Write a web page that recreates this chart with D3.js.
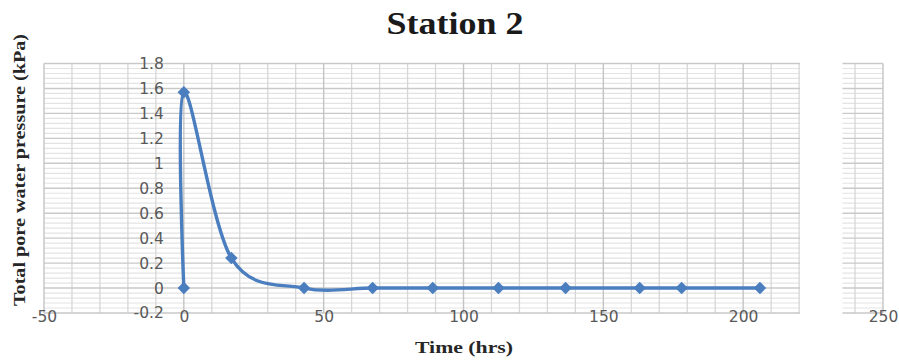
<!DOCTYPE html>
<html>
<head>
<meta charset="utf-8">
<script src="https://cdn.jsdelivr.net/npm/d3@7"></script>
<style>
  body { margin: 0; background: #fff; }
  svg { display: block; }
</style>
</head>
<body>
<svg id="chart" width="899" height="360"></svg>
<script>
// ---- data ----
const timeHrs = [0, 0, 17, 43, 67.5, 89, 112.5, 136.5, 163, 178, 206];
const pressure = [0, 1.57, 0.24, 0, 0, 0, 0, 0, 0, 0, 0];
const xTicks = [-50, 0, 50, 100, 150, 200, 250];
const xTickLabels = ["-50", "0", "50", "100", "150", "200", "250"];
const yTicks = [-0.2, 0, 0.2, 0.4, 0.6, 0.8, 1, 1.2, 1.4, 1.6, 1.8];
const yTickLabels = ["-0.2", "0", "0.2", "0.4", "0.6", "0.8", "1", "1.2", "1.4", "1.6", "1.8"];
const chartTitle = "Station 2";
const xTitle = "Time (hrs)";
const yTitle = "Total pore water pressure (kPa)";

const svg = d3.select("#chart");
const L = 44, R = 883, T = 63.5, B = 313;
const x = d3.scaleLinear().domain([-50, 250]).range([L, R]);
const y = d3.scaleLinear().domain([-0.2, 1.8]).range([B, T]);

// grid
const g = svg.append("g");
const yMinor = d3.range(0, 51).map(i => -0.2 + i * 0.04).filter(v => Math.abs(Math.round(v / 0.2) * 0.2 - v) > 1e-6);
g.selectAll(".ymin").data(yMinor).join("line")
  .attr("x1", L).attr("x2", R)
  .attr("y1", d => y(d)).attr("y2", d => y(d))
  .attr("stroke", "#e3e3e3").attr("stroke-width", 1.2);
const xMinor = d3.range(-50, 251, 10).filter(v => v % 50 !== 0);
g.selectAll(".xmin").data(xMinor).join("line")
  .attr("x1", d => x(d)).attr("x2", d => x(d))
  .attr("y1", T).attr("y2", B)
  .attr("stroke", "#d6d6d6").attr("stroke-width", 1.3);
g.selectAll(".ymaj").data(yTicks).join("line")
  .attr("x1", L).attr("x2", R)
  .attr("y1", d => y(d)).attr("y2", d => y(d))
  .attr("stroke", "#c9c9c9").attr("stroke-width", 1.4);
g.selectAll(".xmaj").data(xTicks).join("line")
  .attr("x1", d => x(d)).attr("x2", d => x(d))
  .attr("y1", T).attr("y2", B)
  .attr("stroke", "#c4c4c4").attr("stroke-width", 1.4);

// white gap in plot area (as in reference)
svg.append("rect")
  .attr("x", x(220) + 1).attr("y", T - 4)
  .attr("width", x(235.5) - x(220) - 1).attr("height", B - T + 8)
  .attr("fill", "#fff");

// axes labels
const yAxis = d3.axisLeft(y).tickValues(yTicks).tickSize(0).tickPadding(20)
  .tickFormat((d, i) => yTickLabels[i]);
const ya = svg.append("g").attr("transform", `translate(${x(0)},0)`).call(yAxis);
ya.select(".domain").remove();
ya.selectAll("text").attr("font-family", "DejaVu Sans").attr("font-size", 15.5).attr("fill", "#595959");

const xAxis = d3.axisBottom(x).tickValues(xTicks).tickSize(0).tickPadding(0)
  .tickFormat((d, i) => xTickLabels[i]);
const xa = svg.append("g").attr("transform", `translate(0,${B})`).call(xAxis);
xa.select(".domain").remove();
xa.selectAll("text").attr("font-family", "DejaVu Sans").attr("font-size", 15.5).attr("fill", "#595959")
  .attr("dy", "0.6em");

// series
const pts = timeHrs.map((t, i) => [t, pressure[i]]);
const line = d3.line().x(d => x(d[0])).y(d => y(d[1])).curve(d3.curveCardinal.tension(0));
svg.append("path").datum(pts).attr("d", line)
  .attr("fill", "none").attr("stroke", "#4a7ebf").attr("stroke-width", 3.4)
  .attr("stroke-linejoin", "round");
svg.selectAll(".mk").data(pts).join("path")
  .attr("d", d3.symbol(d3.symbolSquare, 78)())
  .attr("transform", d => `translate(${x(d[0])},${y(d[1])}) rotate(45)`)
  .attr("fill", "#4a7ebf");

// titles
svg.append("text").text(chartTitle)
  .attr("x", 455).attr("y", 34).attr("text-anchor", "middle")
  .attr("font-family", "Liberation Serif").attr("font-weight", "bold").attr("font-size", 31)
  .attr("textLength", 137).attr("lengthAdjust", "spacingAndGlyphs").attr("fill", "#1a1a1a");
svg.append("text").text(xTitle)
  .attr("x", 464).attr("y", 353).attr("text-anchor", "middle")
  .attr("font-family", "Liberation Serif").attr("font-weight", "bold").attr("font-size", 17)
  .attr("textLength", 98).attr("lengthAdjust", "spacingAndGlyphs").attr("fill", "#262626");
svg.append("text").text(yTitle)
  .attr("transform", "translate(25,170) rotate(-90)").attr("text-anchor", "middle")
  .attr("font-family", "Liberation Serif").attr("font-weight", "bold").attr("font-size", 17)
  .attr("textLength", 272).attr("lengthAdjust", "spacingAndGlyphs").attr("fill", "#262626");
</script>
</body>
</html>
